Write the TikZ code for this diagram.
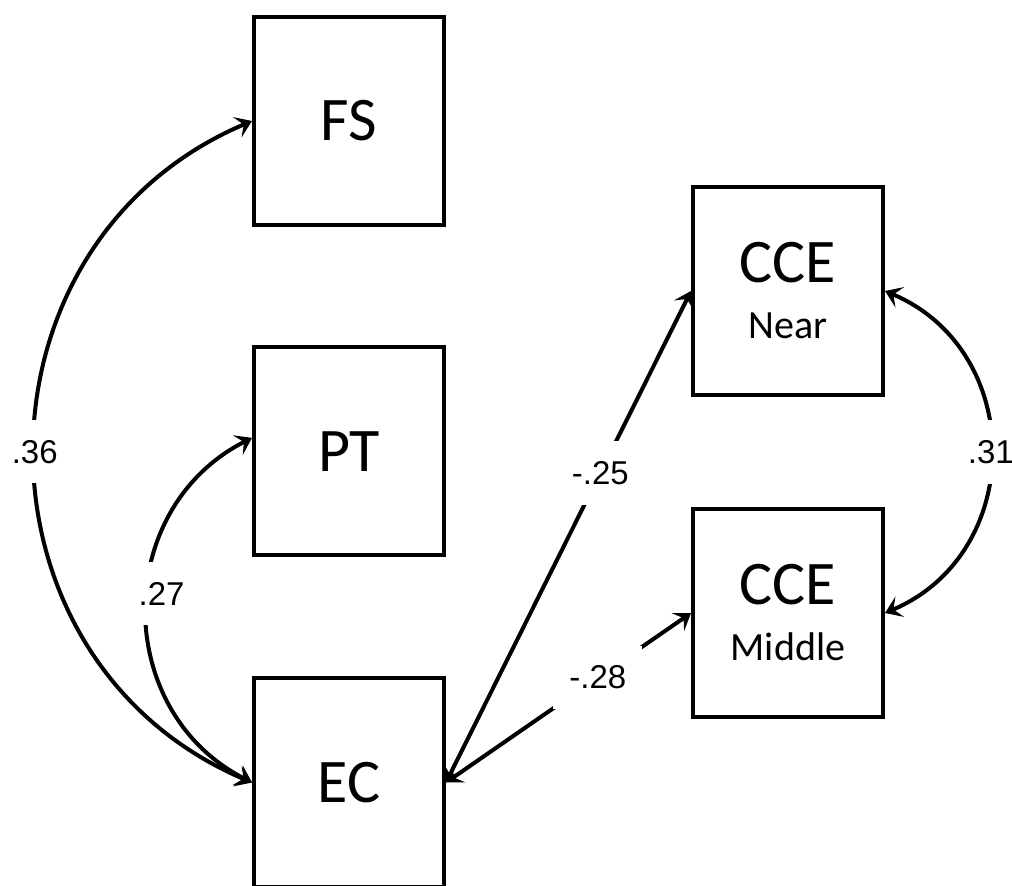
\documentclass[tikz,border=0pt]{standalone}
\usepackage{fontspec}
\setmainfont{Carlito}
\newfontfamily\coeffont{Liberation Sans}
\usetikzlibrary{positioning,arrows.meta}

\newcommand{\subname}[1]{{\fontsize{20}{28}\selectfont #1}}

\begin{document}
\begin{tikzpicture}[
  font=\fontsize{31}{28}\selectfont,
  var/.style={draw, line width=2pt, minimum width=95pt, minimum height=104pt, inner sep=2pt, align=center},
  coef/.style={fill=white, font=\coeffont\fontsize{16.5}{18}\selectfont, inner xsep=8pt, inner ysep=10pt},
  cor/.style={{Stealth[length=8pt,width=11pt,inset=3.5pt]}-{Stealth[length=8pt,width=11pt,inset=3.5pt]}, line width=2pt}]

\useasboundingbox (0,0) rectangle (506pt,-443pt);

\node[var] (fs) at (174.5pt,-60.5pt) {FS};
\node[var, below=59.25pt of fs] (pt) {PT};
\node[var, below=59.5pt of pt] (ec) {EC};
\node[var, right=122.5pt of fs, yshift=-85pt] (near) {CCE\\\subname{Near}};
\node[var, below=55pt of near] (middle) {CCE\\\subname{Middle}};

\draw[cor] (fs.west) to[bend right=67, looseness=1.22] node[coef] {.36} (ec.west);
\draw[cor] (pt.172) to[bend right=63, looseness=1.17] node[coef, pos=0.46, xshift=7pt] {.27} (ec.west);
\draw[cor] (near.east) to[bend left=67, looseness=1.22] node[coef] {.31} (middle.east);
\draw[cor] (ec.east) -- node[coef, pos=0.63] {-.25} (near.west);
\draw[cor] (ec.east) -- node[coef, pos=0.62] {-.28} (middle.west);
\end{tikzpicture}
\end{document}
